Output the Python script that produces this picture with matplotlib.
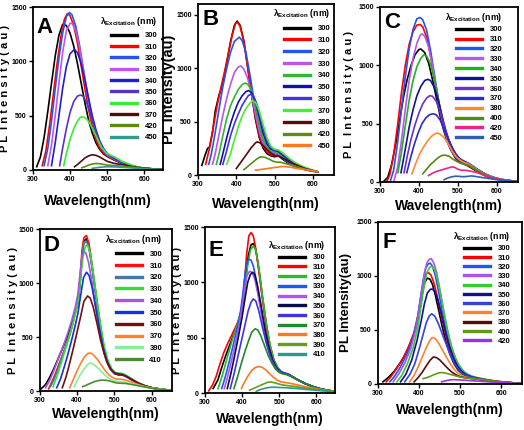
import matplotlib
matplotlib.use("Agg")
import matplotlib.pyplot as plt
from matplotlib.lines import Line2D

plt.rcParams['font.family'] = ['Liberation Sans', 'DejaVu Sans']
plt.rcParams['font.weight'] = 'bold'
plt.rcParams['mathtext.fontset'] = 'custom'
plt.rcParams['mathtext.rm'] = 'Liberation Sans:bold'
plt.rcParams['mathtext.it'] = 'Liberation Sans:bold'
plt.rcParams['mathtext.bf'] = 'Liberation Sans:bold'

# ---------------- data: (wavelength nm, PL intensity au) ----------------
a_exc = [300, 310, 320, 330, 340, 350, 360, 370, 420, 450]
a_curves = [
    [(310, 30), (320, 120), (330, 300), (340, 540), (350, 800), (360, 1050), (370, 1240), (380, 1340), (390, 1330),
     (400, 1260), (410, 1140), (420, 980), (430, 800), (440, 620), (450, 460), (460, 340), (470, 250), (480, 190),
     (490, 150), (500, 125), (520, 90), (540, 60), (570, 30), (600, 15), (650, 5)],
    [(325, 40), (335, 180), (345, 420), (355, 700), (365, 980), (375, 1220), (385, 1390), (393, 1440), (400, 1420),
     (410, 1330), (420, 1170), (430, 960), (440, 750), (450, 560), (460, 400), (470, 280), (480, 200), (490, 160),
     (500, 130), (520, 95), (540, 65), (570, 35), (600, 15), (650, 5)],
    [(330, 40), (340, 200), (350, 450), (360, 750), (370, 1030), (380, 1260), (390, 1410), (398, 1450), (405, 1430),
     (415, 1330), (425, 1160), (435, 950), (445, 740), (455, 550), (465, 400), (475, 280), (485, 200), (500, 140),
     (520, 100), (540, 65), (570, 35), (600, 15), (650, 5)],
    [(340, 40), (350, 230), (360, 500), (370, 800), (380, 1080), (390, 1280), (400, 1350), (405, 1350), (415, 1290),
     (425, 1140), (435, 940), (445, 740), (455, 560), (465, 410), (475, 290), (485, 210), (500, 140), (520, 100),
     (540, 65), (570, 35), (600, 15), (650, 5)],
    [(350, 40), (360, 250), (370, 500), (380, 750), (390, 950), (400, 1070), (412, 1110), (420, 1080), (430, 980),
     (440, 830), (450, 660), (460, 500), (470, 370), (480, 270), (490, 200), (500, 150), (520, 105), (540, 70),
     (570, 35), (600, 15), (650, 5)],
    [(372, 40), (380, 200), (390, 380), (400, 530), (410, 630), (420, 680), (428, 690), (435, 680), (445, 620),
     (455, 520), (465, 400), (475, 300), (485, 220), (500, 150), (520, 110), (540, 75), (570, 35), (600, 15), (650, 5)],
    [(383, 40), (390, 150), (400, 280), (410, 380), (420, 450), (428, 485), (435, 490), (445, 470), (455, 420),
     (465, 350), (475, 280), (485, 210), (500, 150), (520, 120), (540, 80), (570, 40), (600, 15), (650, 5)],
    [(412, 30), (420, 50), (430, 80), (440, 110), (450, 130), (460, 140), (470, 135), (480, 120), (490, 100),
     (500, 80), (520, 60), (540, 50), (570, 30), (600, 15), (650, 5)],
    [(432, 20), (440, 30), (450, 45), (460, 55), (470, 60), (480, 58), (490, 52), (500, 45), (520, 40), (540, 35),
     (570, 25), (600, 12), (650, 5)],
    [(460, 15), (480, 25), (500, 30), (520, 28), (540, 25), (570, 18), (600, 10), (650, 3)],
]

b_exc = [300, 310, 320, 330, 340, 350, 360, 370, 380, 420, 450]
b_curves = [
    [(310, 90), (318, 180), (325, 250), (330, 260), (338, 400), (345, 600), (355, 750), (365, 850), (375, 1050),
     (385, 1250), (395, 1400), (402, 1440), (410, 1400), (420, 1250), (430, 1000), (440, 750), (450, 520),
     (460, 350), (470, 250), (480, 200), (490, 180), (500, 170), (510, 180), (520, 150), (540, 100), (560, 70),
     (580, 50), (600, 35), (612, 30)],
    [(320, 100), (330, 250), (340, 450), (350, 650), (360, 820), (370, 980), (380, 1150), (390, 1320), (398, 1420),
     (403, 1430), (410, 1390), (420, 1240), (430, 1000), (440, 760), (450, 540), (460, 370), (470, 270), (480, 215),
     (490, 190), (500, 180), (510, 190), (520, 160), (540, 110), (560, 75), (580, 50), (600, 35), (612, 30)],
    [(328, 100), (335, 200), (345, 400), (355, 620), (365, 830), (375, 1000), (385, 1150), (395, 1250), (408, 1290),
     (415, 1260), (425, 1150), (435, 950), (445, 730), (455, 520), (465, 370), (475, 270), (485, 220), (495, 200),
     (505, 200), (515, 180), (530, 130), (550, 90), (580, 55), (600, 40), (612, 30)],
    [(338, 100), (345, 200), (355, 380), (365, 560), (375, 720), (385, 850), (395, 960), (405, 1010), (412, 1020),
     (420, 990), (430, 900), (440, 750), (450, 570), (460, 410), (470, 300), (480, 240), (490, 210), (500, 210),
     (510, 200), (520, 170), (540, 120), (560, 85), (580, 55), (600, 40), (612, 30)],
    [(348, 100), (355, 200), (365, 370), (375, 530), (385, 650), (395, 730), (405, 800), (415, 845), (423, 860),
     (430, 850), (440, 790), (450, 650), (460, 480), (470, 340), (480, 260), (490, 220), (500, 220), (510, 210),
     (520, 180), (540, 125), (560, 90), (580, 60), (600, 40), (612, 30)],
    [(358, 100), (365, 200), (375, 350), (385, 480), (395, 590), (405, 680), (415, 740), (425, 780), (432, 790),
     (440, 770), (450, 690), (460, 540), (470, 390), (480, 290), (490, 240), (500, 230), (510, 220), (520, 190),
     (540, 130), (560, 90), (580, 60), (600, 40), (612, 30)],
    [(365, 100), (375, 230), (385, 370), (395, 480), (405, 570), (415, 650), (425, 710), (432, 745), (438, 755),
     (445, 740), (455, 650), (465, 500), (475, 370), (485, 280), (495, 240), (505, 235), (515, 215), (530, 170),
     (550, 120), (570, 80), (590, 55), (612, 30)],
    [(375, 100), (385, 200), (395, 330), (405, 450), (415, 550), (425, 620), (435, 670), (442, 695), (450, 680),
     (460, 600), (470, 470), (480, 350), (490, 270), (500, 240), (510, 235), (520, 210), (540, 150), (560, 100),
     (580, 70), (600, 45), (612, 30)],
    [(400, 60), (410, 110), (420, 160), (430, 210), (440, 260), (450, 300), (455, 310), (462, 300), (472, 270),
     (482, 230), (492, 200), (502, 180), (512, 175), (520, 160), (540, 120), (560, 90), (580, 60), (600, 40),
     (612, 30)],
    [(420, 50), (430, 80), (440, 110), (450, 140), (460, 165), (467, 170), (475, 165), (485, 150), (495, 130),
     (505, 120), (515, 120), (530, 105), (550, 85), (570, 65), (590, 45), (612, 30)],
    [(450, 45), (470, 55), (490, 65), (510, 75), (520, 80), (530, 78), (545, 70), (560, 60), (580, 50), (600, 40),
     (612, 30)],
]

c_exc = [300, 310, 320, 330, 340, 350, 360, 370, 380, 400, 420, 450]
c_curves = [
    [(308, 0), (320, 40), (330, 150), (340, 320), (350, 520), (360, 720), (370, 880), (380, 1000), (390, 1090),
     (400, 1135), (405, 1140), (415, 1110), (425, 1020), (435, 880), (445, 720), (455, 560), (465, 430), (475, 330),
     (485, 260), (495, 200), (505, 170), (515, 155), (525, 140), (540, 110), (560, 70), (580, 40), (600, 25),
     (625, 12), (650, 5)],
    [(317, 0), (325, 60), (335, 230), (345, 480), (355, 760), (365, 1000), (375, 1180), (385, 1290), (395, 1345),
     (403, 1350), (410, 1330), (420, 1240), (430, 1080), (440, 880), (450, 680), (460, 510), (470, 380), (480, 290),
     (490, 230), (500, 190), (510, 170), (520, 155), (540, 115), (560, 75), (580, 45), (600, 28), (625, 12), (650, 5)],
    [(326, 0), (335, 100), (345, 330), (355, 620), (365, 900), (375, 1140), (385, 1310), (395, 1400), (403, 1410),
     (410, 1390), (420, 1300), (430, 1130), (440, 920), (450, 710), (460, 530), (470, 390), (480, 300), (490, 235),
     (500, 195), (510, 175), (520, 160), (540, 118), (560, 78), (580, 47), (600, 28), (625, 12), (650, 5)],
    [(335, 0), (345, 120), (355, 350), (365, 620), (375, 870), (385, 1060), (395, 1190), (403, 1255), (408, 1270),
     (415, 1250), (425, 1160), (435, 1000), (445, 810), (455, 620), (465, 470), (475, 350), (485, 270), (495, 220),
     (505, 190), (515, 170), (530, 145), (550, 100), (570, 65), (590, 38), (610, 22), (650, 5)],
    [(346, 80), (355, 250), (365, 480), (375, 700), (385, 870), (395, 990), (405, 1060), (413, 1090), (420, 1080),
     (430, 1010), (440, 880), (450, 710), (460, 550), (470, 420), (480, 320), (490, 250), (500, 205), (510, 180),
     (520, 165), (540, 120), (560, 80), (580, 48), (600, 28), (625, 12), (650, 5)],
    [(354, 80), (365, 280), (375, 470), (385, 620), (395, 740), (405, 820), (415, 870), (423, 880), (430, 870),
     (440, 810), (450, 700), (460, 560), (470, 430), (480, 330), (490, 260), (500, 210), (510, 185), (520, 170),
     (540, 125), (560, 82), (580, 50), (600, 28), (625, 12), (650, 5)],
    [(362, 80), (370, 220), (380, 370), (390, 490), (400, 590), (410, 670), (420, 720), (428, 740), (435, 735),
     (445, 690), (455, 600), (465, 490), (475, 380), (485, 300), (495, 240), (505, 200), (515, 180), (530, 155),
     (550, 110), (570, 70), (590, 42), (610, 24), (650, 5)],
    [(369, 80), (378, 200), (388, 320), (398, 420), (408, 500), (418, 550), (428, 578), (437, 585), (445, 575),
     (455, 530), (465, 450), (475, 370), (485, 300), (495, 240), (505, 200), (515, 180), (530, 155), (550, 110),
     (570, 70), (590, 42), (610, 24), (650, 5)],
    [(382, 70), (392, 160), (402, 240), (412, 300), (422, 350), (432, 390), (440, 410), (447, 420), (455, 410),
     (465, 380), (475, 330), (485, 270), (495, 220), (505, 190), (515, 170), (530, 150), (550, 105), (570, 68),
     (590, 40), (610, 23), (650, 5)],
    [(410, 70), (420, 110), (430, 150), (440, 180), (450, 210), (460, 228), (468, 230), (478, 220), (488, 195),
     (498, 175), (508, 160), (518, 150), (530, 140), (550, 100), (570, 65), (590, 38), (610, 22), (650, 5)],
    [(425, 55), (435, 75), (445, 90), (455, 100), (465, 110), (475, 120), (485, 130), (492, 125), (500, 110),
     (510, 100), (520, 100), (530, 95), (550, 80), (570, 55), (590, 35), (610, 20), (650, 5)],
    [(465, 20), (475, 35), (485, 45), (495, 50), (505, 48), (515, 45), (525, 48), (535, 52), (545, 48), (560, 40),
     (580, 30), (600, 20), (625, 10), (650, 4)],
]

d_exc = [300, 310, 320, 330, 340, 350, 360, 370, 390, 410]
d_curves = [
    [(303, 20), (315, 60), (325, 120), (335, 190), (345, 270), (355, 350), (365, 430), (375, 520), (385, 620),
     (395, 730), (402, 820), (408, 1000), (413, 1250), (418, 1390), (425, 1410), (432, 1330), (440, 1150),
     (450, 900), (460, 650), (470, 430), (480, 280), (490, 200), (500, 160), (510, 150), (520, 150), (530, 140),
     (545, 110), (560, 80), (580, 50), (600, 30), (625, 15), (655, 5)],
    [(323, 20), (330, 70), (340, 150), (350, 240), (360, 330), (370, 420), (380, 520), (388, 620), (396, 740),
     (402, 840), (408, 1050), (413, 1300), (418, 1420), (425, 1440), (432, 1360), (440, 1170), (450, 910),
     (460, 660), (470, 440), (480, 290), (490, 210), (500, 170), (510, 160), (520, 160), (530, 145), (545, 115),
     (560, 82), (580, 50), (600, 30), (625, 15), (655, 5)],
    [(328, 40), (338, 110), (348, 200), (358, 300), (368, 400), (378, 500), (387, 610), (395, 730), (402, 830),
     (408, 1020), (413, 1260), (418, 1370), (425, 1385), (432, 1320), (440, 1140), (450, 890), (460, 640),
     (470, 430), (480, 285), (490, 205), (500, 165), (510, 155), (520, 155), (530, 140), (545, 110), (560, 80),
     (580, 50), (600, 30), (625, 15), (655, 5)],
    [(335, 40), (345, 130), (355, 240), (365, 350), (375, 460), (385, 580), (395, 710), (402, 820), (408, 1000),
     (415, 1230), (422, 1340), (428, 1350), (435, 1280), (443, 1100), (453, 850), (463, 610), (473, 410),
     (483, 280), (493, 205), (503, 170), (513, 165), (523, 160), (535, 140), (550, 105), (565, 75), (585, 45),
     (605, 28), (655, 5)],
    [(315, 30), (325, 90), (335, 170), (345, 260), (355, 350), (365, 440), (375, 540), (385, 650), (395, 780),
     (402, 900), (408, 1100), (413, 1250), (418, 1290), (423, 1280), (430, 1200), (438, 1050), (448, 820),
     (458, 600), (468, 410), (478, 280), (488, 205), (498, 165), (510, 155), (520, 150), (530, 135), (545, 105),
     (560, 78), (580, 48), (600, 28), (625, 14), (655, 5)],
    [(345, 30), (355, 110), (365, 220), (375, 340), (385, 470), (395, 610), (402, 720), (410, 900), (417, 1050),
     (425, 1100), (432, 1070), (440, 960), (450, 770), (460, 570), (470, 400), (480, 280), (490, 205), (500, 170),
     (510, 160), (520, 155), (530, 140), (545, 108), (560, 78), (580, 48), (600, 28), (655, 5)],
    [(360, 30), (370, 130), (380, 260), (390, 400), (400, 550), (410, 700), (418, 830), (428, 880), (435, 860),
     (443, 780), (453, 630), (463, 470), (473, 340), (483, 245), (493, 190), (503, 160), (513, 150), (523, 148),
     (535, 130), (550, 100), (565, 72), (585, 45), (605, 27), (655, 5)],
    [(380, 30), (390, 110), (400, 190), (410, 260), (420, 320), (430, 350), (437, 350), (445, 330), (455, 290),
     (465, 240), (475, 190), (485, 150), (495, 125), (505, 110), (515, 110), (525, 105), (540, 90), (560, 65),
     (580, 42), (600, 27), (655, 5)],
    [(392, 40), (400, 100), (410, 160), (420, 210), (428, 245), (435, 260), (445, 245), (455, 215), (465, 180),
     (475, 145), (485, 120), (495, 100), (505, 90), (515, 88), (530, 80), (550, 65), (570, 48), (590, 33),
     (610, 22), (655, 5)],
    [(415, 40), (425, 55), (435, 70), (445, 85), (455, 95), (465, 100), (475, 100), (485, 95), (495, 85), (505, 75),
     (515, 72), (530, 70), (550, 58), (570, 45), (590, 32), (610, 20), (655, 5)],
]

e_exc = [300, 310, 320, 330, 340, 350, 360, 370, 380, 390, 410]
e_curves = [
    [(322, 40), (335, 120), (345, 230), (355, 330), (365, 420), (375, 510), (385, 600), (395, 700), (402, 820),
     (410, 1050), (417, 1250), (424, 1340), (430, 1350), (437, 1290), (445, 1120), (455, 860), (465, 620),
     (475, 430), (485, 300), (495, 230), (505, 190), (515, 175), (525, 165), (535, 145), (550, 118), (570, 85),
     (590, 58), (610, 38), (630, 24), (650, 15)],
    [(310, 20), (320, 70), (330, 150), (340, 260), (350, 360), (360, 440), (370, 510), (380, 580), (390, 650),
     (398, 750), (405, 950), (412, 1250), (418, 1420), (424, 1450), (430, 1420), (437, 1300), (445, 1100),
     (455, 840), (465, 600), (475, 420), (485, 300), (495, 230), (505, 190), (515, 180), (525, 170), (535, 150),
     (550, 120), (570, 85), (590, 60), (610, 40), (630, 25), (650, 15)],
    [(335, 40), (345, 140), (355, 260), (365, 380), (375, 500), (387, 620), (398, 760), (408, 950), (415, 1150),
     (422, 1290), (430, 1330), (437, 1290), (445, 1130), (455, 870), (465, 630), (475, 440), (485, 305),
     (495, 235), (505, 195), (515, 178), (525, 165), (535, 145), (550, 118), (570, 85), (590, 58), (610, 38),
     (630, 24), (650, 15)],
    [(345, 40), (355, 150), (365, 280), (375, 420), (385, 560), (395, 720), (402, 900), (408, 1080), (413, 1180),
     (418, 1210), (424, 1200), (430, 1150), (438, 1020), (446, 850), (456, 640), (466, 460), (476, 330),
     (486, 250), (496, 205), (506, 185), (516, 175), (526, 165), (536, 145), (550, 118), (570, 85), (590, 58),
     (610, 38), (630, 24), (650, 15)],
    [(352, 40), (362, 160), (372, 300), (382, 450), (392, 620), (400, 780), (407, 950), (413, 1060), (420, 1100),
     (427, 1090), (434, 1030), (442, 900), (452, 720), (462, 540), (472, 390), (482, 290), (492, 225), (502, 190),
     (512, 178), (522, 170), (535, 148), (550, 118), (570, 85), (590, 58), (610, 38), (630, 24), (650, 15)],
    [(360, 40), (370, 180), (380, 340), (390, 510), (400, 690), (408, 860), (415, 1000), (422, 1070), (428, 1090),
     (434, 1070), (442, 960), (452, 770), (462, 570), (472, 410), (482, 300), (492, 230), (502, 195), (512, 180),
     (522, 170), (535, 148), (550, 118), (570, 85), (590, 58), (610, 38), (630, 24), (650, 15)],
    [(368, 40), (378, 170), (388, 320), (398, 470), (408, 620), (416, 740), (424, 820), (430, 850), (437, 830),
     (445, 740), (455, 590), (465, 450), (475, 340), (485, 260), (495, 210), (505, 190), (515, 178), (525, 168),
     (537, 145), (550, 118), (570, 85), (590, 58), (610, 38), (630, 24), (650, 15)],
    [(378, 40), (388, 150), (398, 270), (408, 380), (418, 480), (426, 550), (435, 580), (442, 570), (450, 520),
     (460, 430), (470, 340), (480, 270), (490, 215), (500, 185), (510, 172), (520, 165), (535, 145), (550, 118),
     (570, 85), (590, 58), (610, 38), (630, 24), (650, 15)],
    [(398, 40), (405, 90), (415, 150), (425, 200), (435, 230), (445, 240), (455, 230), (465, 205), (475, 170),
     (485, 140), (495, 115), (505, 100), (515, 95), (525, 90), (540, 80), (560, 65), (580, 50), (600, 38),
     (625, 25), (650, 15)],
    [(420, 25), (430, 40), (440, 55), (450, 70), (460, 85), (470, 98), (480, 98), (490, 90), (500, 80), (510, 72),
     (520, 68), (535, 62), (550, 55), (570, 45), (590, 35), (610, 28), (630, 20), (650, 13)],
    [(438, 15), (448, 30), (458, 40), (468, 48), (478, 52), (488, 52), (500, 50), (515, 48), (530, 45), (550, 40),
     (570, 33), (590, 27), (610, 21), (630, 16), (650, 12)],
]

f_exc = [300, 310, 320, 330, 340, 350, 360, 370, 380, 400, 420]
f_curves = [
    [(312, 20), (325, 60), (340, 120), (355, 200), (370, 300), (385, 430), (395, 560), (402, 700), (408, 840),
     (414, 940), (420, 980), (427, 970), (433, 920), (440, 820), (448, 680), (456, 540), (465, 400), (475, 280),
     (485, 190), (495, 130), (505, 95), (515, 75), (525, 60), (540, 48), (560, 35), (580, 25), (600, 18), (625, 10),
     (650, 5)],
    [(320, 20), (330, 60), (345, 140), (360, 230), (375, 350), (388, 480), (398, 650), (405, 820), (411, 950),
     (417, 1020), (423, 1030), (429, 1010), (436, 940), (444, 820), (452, 670), (461, 520), (470, 380), (480, 260),
     (490, 180), (500, 125), (510, 92), (520, 72), (535, 55), (555, 40), (575, 28), (600, 18), (625, 10), (650, 5)],
    [(329, 20), (340, 70), (355, 160), (370, 270), (385, 420), (395, 580), (403, 780), (410, 960), (416, 1070),
     (422, 1110), (427, 1120), (433, 1090), (440, 1000), (448, 850), (456, 680), (465, 510), (475, 350), (485, 240),
     (495, 165), (505, 115), (515, 88), (525, 70), (540, 55), (560, 40), (580, 28), (600, 18), (625, 10), (650, 5)],
    [(337, 20), (350, 90), (365, 190), (380, 330), (392, 500), (400, 680), (407, 870), (413, 1020), (419, 1120),
     (425, 1155), (430, 1160), (436, 1120), (443, 1030), (451, 870), (459, 700), (468, 520), (478, 360), (488, 245),
     (498, 170), (508, 120), (518, 90), (530, 70), (545, 55), (565, 40), (585, 28), (605, 18), (650, 5)],
    [(346, 20), (358, 80), (372, 190), (386, 340), (397, 520), (405, 720), (412, 900), (419, 1030), (426, 1080),
     (432, 1090), (438, 1060), (446, 960), (454, 800), (463, 620), (472, 450), (482, 310), (492, 210), (502, 145),
     (512, 105), (522, 82), (535, 65), (550, 52), (570, 38), (590, 27), (610, 18), (650, 5)],
    [(355, 20), (368, 90), (382, 220), (395, 400), (405, 580), (413, 740), (420, 840), (427, 875), (432, 880),
     (438, 860), (446, 780), (455, 640), (464, 490), (474, 350), (484, 240), (494, 165), (504, 118), (514, 88),
     (525, 70), (540, 55), (560, 40), (580, 28), (600, 18), (650, 5)],
    [(365, 20), (378, 90), (390, 190), (400, 320), (410, 460), (418, 570), (425, 630), (431, 650), (438, 630),
     (446, 570), (455, 480), (465, 380), (475, 280), (485, 200), (495, 140), (505, 100), (515, 78), (528, 62),
     (545, 50), (565, 37), (585, 26), (605, 17), (650, 5)],
    [(377, 20), (388, 80), (398, 160), (408, 250), (418, 340), (426, 400), (432, 430), (438, 425), (446, 390),
     (455, 330), (465, 260), (475, 195), (485, 140), (495, 100), (505, 75), (515, 62), (530, 52), (550, 42),
     (570, 32), (590, 24), (610, 16), (650, 5)],
    [(388, 20), (398, 60), (408, 110), (418, 170), (427, 220), (435, 250), (442, 245), (450, 225), (460, 185),
     (470, 145), (480, 110), (490, 85), (500, 68), (512, 58), (530, 50), (550, 42), (570, 32), (590, 24), (610, 16),
     (650, 5)],
    [(410, 50), (420, 60), (430, 75), (440, 92), (450, 105), (460, 105), (470, 95), (480, 85), (490, 75), (500, 65),
     (512, 58), (530, 50), (550, 42), (570, 32), (590, 24), (610, 16), (650, 5)],
    [(455, 20), (465, 30), (475, 38), (485, 40), (495, 38), (510, 35), (530, 30), (550, 25), (570, 20), (590, 15),
     (610, 11), (650, 5)],
]

# ---------------- colours ----------------
a_colors = ['#000000', '#ff0000', '#2255ee', '#c055ee', '#1f1fd0', '#5533cc', '#33ee33', '#4a0e0e', '#5a8a10',
            '#339c8c']
b_colors = ['#000000', '#ff0000', '#2255ee', '#bb55ee', '#2db82d', '#1010aa', '#4433dd', '#44ee33', '#5a0a0a',
            '#5f8a15', '#ff7722']
c_colors = ['#000000', '#ff0000', '#2255ee', '#bb55ee', '#22b022', '#10109a', '#6633cc', '#2a2ad0', '#ff8833',
            '#558a10', '#ee2288', '#2f5fb0']
d_colors = ['#000000', '#ff1010', '#4477aa', '#33dd33', '#aa55dd', '#1530dd', '#701010', '#ff8030', '#88ee99',
            '#4a8a30']
e_colors = ['#000000', '#ff0000', '#2db82d', '#2255ee', '#aa55ee', '#0a0a50', '#4433dd', '#1f8a2a', '#ff7722',
            '#6a9a20', '#2a9a88']
f_colors = ['#000000', '#ff0000', '#2255ee', '#aa55ee', '#33cc33', '#10109a', '#3344dd', '#ff8030', '#5a0a0a',
            '#5f9a15', '#9933dd']

W, H = 524, 430
SPACED = 'P L  I n t e n s i t y ( a u )'

# letter, exc, curves, colors, box(px: left, top, right, bottom), ylim top, xlim right,
# legend anchor, labelspacing, ylabel text, ylabel x, xlabel y, ylabel size
panels = [
    ('A', a_exc, a_curves, a_colors, (33, 7, 163, 170), 1500, 651, (0.955, 0.95), 0.52, SPACED, -0.175, -0.15, 8),
    ('B', b_exc, b_curves, b_colors, (198, 4, 334, 175), 1600, 655, (0.975, 0.98), 0.58, 'PL Intensity(au)', -0.16,
     -0.13, 10.5),
    ('C', c_exc, c_curves, c_colors, (380, 7, 518, 182), 1500, 655, (0.885, 0.98), 0.33, SPACED, -0.19, -0.10, 8),
    ('D', d_exc, d_curves, d_colors, (40, 229, 172, 391), 1500, 655, (0.925, 0.975), 0.58, SPACED, -0.17, -0.10, 8),
    ('E', e_exc, e_curves, e_colors, (205, 227, 335, 393), 1500, 650, (0.925, 0.93), 0.31, SPACED, -0.18, -0.115, 8),
    ('F', f_exc, f_curves, f_colors, (378, 222, 522, 384), 1500, 651, (0.92, 0.95), 0.25, 'PL Intensity(au)', -0.18,
     -0.12, 9.5),
]

fig = plt.figure(figsize=(W / 100, H / 100), dpi=100)

for (letter, exc, curves, colors, box, ytop, xright, anchor, lspace,
     ylab, ylx, xly, ylsize) in panels:
    l, t, r, b = box
    ax = fig.add_axes([l / W, 1 - b / H, (r - l) / W, (b - t) / H])

    for curve, col in zip(curves, colors):
        xs = [p[0] for p in curve]
        ys = [p[1] for p in curve]
        ax.plot(xs, ys, color=col, lw=1.2, solid_joinstyle='round')

    ax.set_xlim(300, xright)
    ax.set_ylim(0, ytop)
    ax.set_xticks([300, 400, 500, 600])
    ax.set_yticks([0, 500, 1000, 1500])
    ax.tick_params(direction='out', length=3, width=1, labelsize=5, pad=1.5)
    for sp in ax.spines.values():
        sp.set_linewidth(1.3)

    ax.set_xlabel('Wavelength(nm)', fontsize=10, fontweight='bold')
    ax.xaxis.set_label_coords(0.5, xly)
    ax.set_ylabel(ylab, fontsize=ylsize, fontweight='bold')
    ax.yaxis.set_label_coords(ylx, 0.5)

    ax.text(0.03, anchor[1] - 0.01 if letter != 'A' else 0.94, letter, transform=ax.transAxes,
            fontsize=16, fontweight='bold', va='top', ha='left')

    handles = [Line2D([], [], color=c, lw=2.4) for c in colors]
    leg = ax.legend(handles, [str(e) for e in exc], loc='upper right', bbox_to_anchor=anchor,
                    frameon=False, fontsize=5.5, handlelength=3.4, handletextpad=1.0,
                    labelspacing=lspace, borderpad=0, borderaxespad=0,
                    title=r'$\lambda_{Excitation}$ (nm)', title_fontsize=6.3)
    leg._legend_box.align = 'right'

fig.savefig('out.png', dpi=100)
